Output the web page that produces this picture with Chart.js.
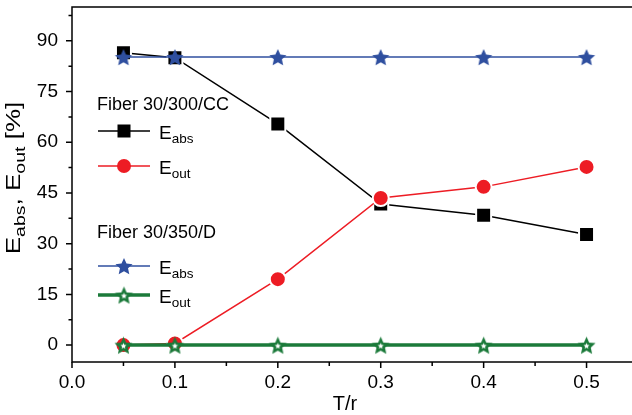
<!DOCTYPE html>
<html>
<head>
<meta charset="utf-8">
<script src="https://cdn.jsdelivr.net/npm/chart.js@4"></script>
<style>
  html, body { margin: 0; padding: 0; overflow: hidden; background: #fff; }
  #wrap { width: 640px; height: 415px; }
</style>
</head>
<body>
<div id="wrap"><canvas id="chart" width="640" height="415"></canvas></div>
<script>
// T/r positions
const tr = [0.05, 0.1, 0.2, 0.3, 0.4, 0.5];
// Fiber 30/300/CC
const ccAbs = [86.5, 85.0, 65.4, 41.7, 38.4, 32.7];
const ccOut = [0.0, 0.5, 19.5, 43.5, 46.8, 52.7];
// Fiber 30/350/D
const dAbs = [85.2, 85.2, 85.2, 85.2, 85.2, 85.2];
const dOut = [0.0, 0.0, 0.0, 0.0, 0.0, 0.0];

const xTicks = [0.0, 0.1, 0.2, 0.3, 0.4, 0.5];
const xMinor = [0.05, 0.15, 0.25, 0.35, 0.45];
const yTicks = [0, 15, 30, 45, 60, 75, 90];
const yMinor = [7.5, 22.5, 37.5, 52.5, 67.5, 82.5, 97.5];

const FONT = "'Liberation Sans', Arial, sans-serif";
const BLACK = "#000000";
const RED = "#ed1c24";
const BLUE = "#2f4f9f";
const GREEN = "#1b7a3a";

// filled 5-point star as an image, optional white inner star
function starImage(fill, R, inner) {
  const s = Math.ceil(R * 2 + 4);
  const c = document.createElement("canvas");
  c.width = c.height = s;
  const g = c.getContext("2d");
  const path = (ro, ri) => {
    g.beginPath();
    for (let i = 0; i < 10; i++) {
      const a = -Math.PI / 2 + (i * Math.PI) / 5;
      const rad = i % 2 ? ri : ro;
      g.lineTo(s / 2 + rad * Math.cos(a), s / 2 + 1 + rad * Math.sin(a));
    }
    g.closePath();
  };
  path(R, R * 0.47);
  g.fillStyle = fill;
  g.fill();
  if (inner) {
    path(inner, inner * 0.45);
    g.fillStyle = "#fff";
    g.fill();
  }
  return c;
}
const blueStar = starImage(BLUE, 9, 0);
const greenStar = starImage(GREEN, 9.5, 3.2);

const pts = (ys) => tr.map((x, i) => ({ x: x, y: ys[i] }));

// draw text with a subscript, returns width
function subText(ctx, x, y, main, sub, big, small, drop, measureOnly) {
  ctx.font = big + "px " + FONT;
  const w1 = ctx.measureText(main).width;
  ctx.font = small + "px " + FONT;
  const w2 = ctx.measureText(sub).width;
  if (!measureOnly) {
    ctx.font = big + "px " + FONT;
    ctx.fillText(main, x, y);
    ctx.font = small + "px " + FONT;
    ctx.fillText(sub, x + w1, y + drop);
  }
  return w1 + w2;
}

const framePlugin = {
  id: "frame",
  afterDraw(chart) {
    const ctx = chart.ctx;
    const a = chart.chartArea;
    const xs = chart.scales.x, ys = chart.scales.y;
    ctx.save();
    ctx.strokeStyle = "#000";
    ctx.lineWidth = 1.5;
    ctx.strokeRect(a.left, a.top, a.right - a.left, a.bottom - a.top);
    ctx.beginPath();
    yTicks.forEach((v) => { const p = ys.getPixelForValue(v); ctx.moveTo(a.left - 6, p); ctx.lineTo(a.left, p); });
    yMinor.forEach((v) => { const p = ys.getPixelForValue(v); ctx.moveTo(a.left - 3.5, p); ctx.lineTo(a.left, p); });
    xTicks.forEach((v) => { const p = xs.getPixelForValue(v); ctx.moveTo(p, a.bottom); ctx.lineTo(p, a.bottom + 6); });
    xMinor.forEach((v) => { const p = xs.getPixelForValue(v); ctx.moveTo(p, a.bottom); ctx.lineTo(p, a.bottom + 4); });
    ctx.stroke();

    // axis titles
    ctx.fillStyle = "#000";
    ctx.textBaseline = "alphabetic";
    ctx.textAlign = "left";
    ctx.font = "20px " + FONT;
    const tw = ctx.measureText("T/r").width;
    ctx.fillText("T/r", 345 - tw / 2, 410);

    ctx.save();
    const parts = [["E", "abs"], [", E", "out"], [" [%]", ""]];
    let total = 0;
    parts.forEach((p) => { total += subText(ctx, 0, 0, p[0], p[1], 20, 15, 5, true); });
    ctx.translate(20, 178);
    ctx.rotate(-Math.PI / 2);
    ctx.scale(1.3, 1);
    let x = -total / 2;
    parts.forEach((p) => { x += subText(ctx, x, 0, p[0], p[1], 20, 15, 5, false); });
    ctx.restore();

    // legend
    ctx.font = "18px " + FONT;
    ctx.fillText("Fiber 30/300/CC", 97, 110);
    ctx.fillText("Fiber 30/350/D", 97, 238);
    const rows = [
      { y: 131, color: BLACK, w: 1.5, sub: "abs", mark: "rect" },
      { y: 166, color: RED, w: 1.5, sub: "out", mark: "circle" },
      { y: 266, color: BLUE, w: 1.6, sub: "abs", mark: blueStar },
      { y: 295, color: GREEN, w: 3.5, sub: "out", mark: greenStar },
    ];
    rows.forEach((r) => {
      ctx.strokeStyle = r.color;
      ctx.lineWidth = r.w;
      ctx.beginPath();
      ctx.moveTo(98, r.y);
      ctx.lineTo(150, r.y);
      ctx.stroke();
      ctx.fillStyle = r.color;
      if (r.mark === "rect") {
        ctx.fillRect(124 - 6.5, r.y - 6.5, 13, 13);
      } else if (r.mark === "circle") {
        ctx.beginPath();
        ctx.arc(124, r.y, 7, 0, Math.PI * 2);
        ctx.fill();
      } else {
        ctx.drawImage(r.mark, 124 - r.mark.width / 2, r.y - r.mark.height / 2);
      }
      ctx.fillStyle = "#000";
      subText(ctx, 159, r.y + 8, "E", r.sub, 19, 13.5, 4, false);
    });
    ctx.restore();
  },
};

function noPad(s) {
  s.paddingTop = 0;
  s.paddingBottom = 0;
  s.paddingLeft = 0;
  s.paddingRight = 0;
}

new Chart(document.getElementById("chart"), {
  type: "scatter",
  data: {
    datasets: [
      {
        label: "30/350/D Eout",
        data: pts(dOut),
        showLine: true,
        borderColor: GREEN,
        borderWidth: 3.5,
        pointStyle: greenStar,
        backgroundColor: GREEN,
      },
      {
        label: "30/350/D Eabs",
        data: pts(dAbs),
        showLine: true,
        borderColor: BLUE,
        borderWidth: 1.6,
        pointStyle: blueStar,
        backgroundColor: BLUE,
      },
      {
        label: "30/300/CC Eout",
        data: pts(ccOut),
        showLine: true,
        borderColor: RED,
        borderWidth: 1.5,
        pointStyle: "circle",
        pointRadius: 8,
        pointBackgroundColor: RED,
        pointBorderColor: "#fff",
        pointBorderWidth: 2,
      },
      {
        label: "30/300/CC Eabs",
        data: pts(ccAbs),
        showLine: true,
        borderColor: BLACK,
        borderWidth: 1.5,
        pointStyle: "rect",
        pointRadius: 10.6,
        pointBackgroundColor: BLACK,
        pointBorderColor: "#fff",
        pointBorderWidth: 2,
      },
    ],
  },
  options: {
    responsive: false,
    animation: false,
    events: [],
    layout: { autoPadding: false, padding: { top: 7, right: 2, left: 0, bottom: 0 } },
    plugins: { legend: { display: false }, tooltip: { enabled: false } },
    scales: {
      x: {
        type: "linear",
        min: 0,
        max: 0.55,
        grid: { display: false, drawTicks: false },
        border: { display: false },
        afterBuildTicks: (s) => { s.ticks = xTicks.map((v) => ({ value: v })); },
        afterFit: (s) => { s.height = 53; noPad(s); },
        ticks: {
          padding: 9,
          color: "#000",
          font: { family: FONT, size: 19 },
          maxRotation: 0,
          autoSkip: false,
          callback: (v) => v.toFixed(1),
        },
      },
      y: {
        type: "linear",
        min: -5,
        max: 100,
        grid: { display: false, drawTicks: false },
        border: { display: false },
        afterBuildTicks: (s) => { s.ticks = yTicks.map((v) => ({ value: v })); },
        afterFit: (s) => { s.width = 72; noPad(s); },
        ticks: {
          padding: 14,
          color: "#000",
          font: { family: FONT, size: 19 },
          autoSkip: false,
          callback: (v) => String(v),
        },
      },
    },
  },
  plugins: [framePlugin],
});
</script>
</body>
</html>
